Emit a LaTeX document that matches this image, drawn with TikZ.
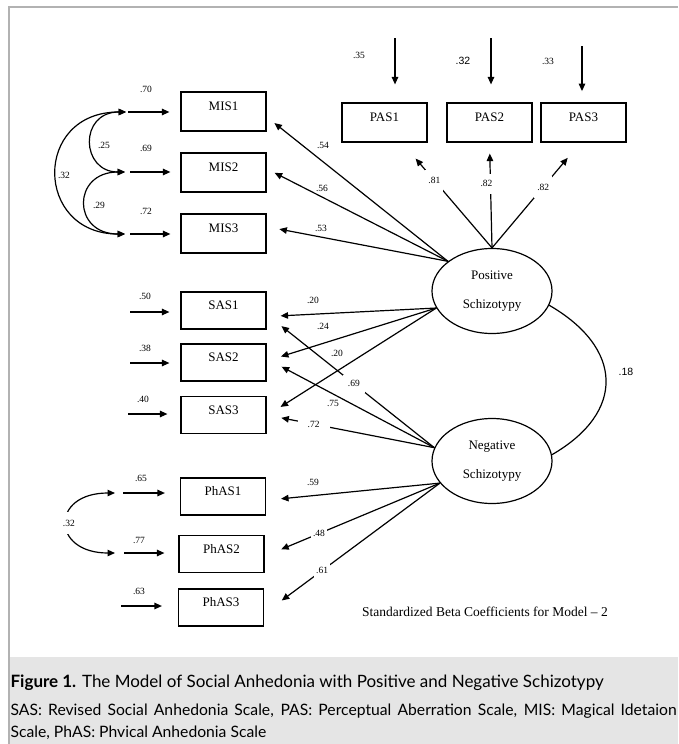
\documentclass[tikz,border=0pt]{standalone}
\usepackage{fontspec}
\setmainfont{Liberation Serif}
\newfontfamily\capfont{Lato}
\newfontfamily\arialfont{Liberation Sans}
\usetikzlibrary{arrows.meta,shapes.geometric}

\begin{document}
\begin{tikzpicture}[x=1pt, y=1pt, >={Triangle[length=7.5pt,width=6.5pt]}, line width=1.2pt,
      every node/.append style={inner sep=1pt}]
    \tikzstyle{itembox} = [draw, rectangle, minimum width=85pt, minimum height=37pt,
      font=\fontsize{13}{15}\selectfont, text height=9pt, text depth=10.4pt]
    \tikzstyle{latent} = [draw, ellipse, minimum width=120pt, minimum height=85pt,
      align=center, font=\fontsize{13}{29}\selectfont]
    \tikzstyle{coef} = [font=\fontsize{9.5}{10}\selectfont]
    \tikzstyle{sanscoef} = [font=\arialfont\fontsize{10.5}{12}\selectfont]
    \tikzstyle{gaplabel} = [coef, fill=white, minimum width=18pt, minimum height=18pt]
    \tikzstyle{capline} = [anchor=base west, inner sep=0, font=\capfont\fontsize{15.7}{18}\selectfont]

    \useasboundingbox (0,0) rectangle (678,-744);
    \fill[black!10] (9,-657) rectangle (678,-744);
    \draw[black!30, line width=1.5pt] (9,-744) -- (9,-7) -- (678,-7);

    \node (MIS1) [itembox, minimum height=39pt] at (223.5,-111.5) {MIS1};
    \node (MIS2) [itembox, minimum height=39pt] at (223.5,-172.5) {MIS2};
    \node (MIS3) [itembox, minimum height=39pt] at (223.5,-233.5) {MIS3};
    \node (PAS1) [itembox, minimum height=39pt] at (384.5,-122.5) {PAS1};
    \node (PAS2) [itembox, minimum height=39pt] at (489.5,-122.5) {PAS2};
    \node (PAS3) [itembox, minimum height=39pt, line width=1.8pt] at (583.5,-122.5) {PAS3};
    \node (SAS1) [itembox] at (223.5,-310.5) {SAS1};
    \node (SAS2) [itembox] at (223.5,-362.5) {SAS2};
    \node (SAS3) [itembox] at (223.5,-415) {SAS3};
    \node (PhAS1) [itembox] at (223,-496.5) {PhAS1};
    \node (PhAS2) [itembox] at (221.5,-554) {PhAS2};
    \node (PhAS3) [itembox] at (221,-607.5) {PhAS3};
    \node (Pos) [latent] at (492,-291) {Positive\\Schizotypy};
    \node (Neg) [latent] at (492,-461) {Negative\\Schizotypy};

    \coordinate (eMIS1) at (128,-112);
    \coordinate (eMIS2) at (130,-172);
    \coordinate (eMIS3) at (130,-234);
    \coordinate (eSAS1) at (130,-312);
    \coordinate (eSAS2) at (130,-363);
    \coordinate (eSAS3) at (128,-414);
    \coordinate (ePhAS1) at (123,-493);
    \coordinate (ePhAS2) at (124,-553);
    \coordinate (ePhAS3) at (121,-606);
    \coordinate (ePAS1) at (395,-38);
    \coordinate (ePAS2) at (491,-38);
    \coordinate (ePAS3) at (582,-46);

    \draw[->, shorten >=11pt] (eMIS1) -- (eMIS1 -| MIS1.west);
    \draw[->, shorten >=10pt] (eMIS2) -- (eMIS2 -| MIS2.west);
    \draw[->, shorten >=10pt] (eMIS3) -- (eMIS3 -| MIS3.west);
    \draw[->, shorten >=11pt] (eSAS1) -- (eSAS1 -| SAS1.west);
    \draw[->, shorten >=11pt] (eSAS2) -- (eSAS2 -| SAS2.west);
    \draw[->, shorten >=13pt] (eSAS3) -- (eSAS3 -| SAS3.west);
    \draw[->, shorten >=15pt] (ePhAS1) -- (ePhAS1 -| PhAS1.west);
    \draw[->, shorten >=14pt] (ePhAS2) -- (ePhAS2 -| PhAS2.west);
    \draw[->, shorten >=16pt] (ePhAS3) -- (ePhAS3 -| PhAS3.west);
    \draw[->, shorten >=18pt] (ePAS1) -- (ePAS1 |- PAS1.north);
    \draw[->, shorten >=18pt] (ePAS2) -- (ePAS2 |- PAS2.north);
    \draw[->, shorten >=11pt] (ePAS3) -- (ePAS3 |- PAS3.north);

    \draw[<->, shorten <=2pt, shorten >=5pt] (eMIS1) to[out=180, in=180, looseness=2.1] (eMIS2);
    \draw[<->, shorten <=5pt, shorten >=5pt] (eMIS2) to[out=180, in=180, looseness=2.4] (eMIS3);
    \draw[<->, shorten <=2pt, shorten >=5pt] (eMIS1) to[out=180, in=180, looseness=2.0] (eMIS3);
    \draw[<->, shorten <=8pt, shorten >=9pt] (ePhAS1) to[out=180, in=180, looseness=3.1]
      node (cPhAS) [gaplabel, minimum width=14pt, minimum height=22pt] {.32} (ePhAS2);
    \draw (Pos.-14) to[out=-30, in=30, looseness=1.46] (Neg.6);

    \draw[->, shorten >=10pt] (Pos.146) -- (MIS1.-7);
    \draw[->, shorten >=9pt] (Pos.146) -- (MIS2.5);
    \draw[->, shorten >=13pt] (Pos.146) -- (MIS3.9);
    \draw[->, shorten >=14pt] (Pos.197) -- (SAS1.-8);
    \draw[->, shorten >=15pt] (Pos.197) -- (SAS2.2);
    \draw[->, shorten >=16.5pt] (Pos.197) -- (SAS3.-1);
    \draw[->, shorten >=17pt] (Neg.167) -- (SAS2.5);
    \draw[->, shorten >=15pt] (Neg.203) -- (PhAS1.-5);
    \draw[->, shorten >=19pt] (Neg.167) -- node (l69) [gaplabel, pos=0.48, minimum width=22pt] {.69} (SAS1.-5);
    \draw[->, shorten >=15pt] (Neg.167) -- node (l72) [gaplabel, pos=0.72, minimum width=32pt, minimum height=12pt] {.72} (SAS3.0);
    \draw[->, shorten >=18pt] (Neg.203) -- node (l48) [gaplabel, pos=0.69, minimum width=16pt, minimum height=14pt] {.48} (PhAS2.-3);
    \draw[->, shorten >=22pt] (Neg.203) -- node (l61) [gaplabel, pos=0.67, minimum width=16pt, minimum height=16pt] {.61} (PhAS3.-8);
    \draw[->, shorten >=21pt] (Pos.north) -- node (l81) [gaplabel, pos=0.64, minimum height=22pt] {.81} (PAS1.-49);
    \draw[->, shorten >=11pt] (Pos.north) -- node (l82a) [gaplabel, pos=0.61, xshift=-4pt, minimum width=22pt, minimum height=20pt] {.82} (PAS2.south);
    \draw[->, shorten >=19.5pt] (Pos.north) -- node (l82b) [gaplabel, pos=0.58, minimum height=22pt] {.82} (PAS3.-99);

    \node (rMIS1) [coef] at (146,-89) {.70};
    \node (rMIS2) [coef] at (146,-148) {.69};
    \node (rMIS3) [coef] at (146,-211) {.72};
    \node (rSAS1) [coef] at (145,-296) {.50};
    \node (rSAS2) [coef] at (145,-348) {.38};
    \node (rSAS3) [coef] at (143,-399) {.40};
    \node (rPhAS1) [coef] at (141,-478) {.65};
    \node (rPhAS2) [coef] at (139,-540) {.77};
    \node (rPhAS3) [coef] at (139,-591) {.63};
    \node (rPAS1) [coef] at (359,-55) {.35};
    \node (rPAS2) [sanscoef] at (463,-61) {.32};
    \node (rPAS3) [coef] at (548,-61) {.33};
    \node (cMIS12) [coef] at (104,-145) {.25};
    \node (cMIS23) [coef] at (99,-205) {.29};
    \node (cMIS13) [coef] at (64,-175) {.32};
    \node (cPosNeg) [sanscoef] at (626,-372) {.18};
    \node (lMIS1) [coef] at (323,-145) {.54};
    \node (lMIS2) [coef] at (322,-188) {.56};
    \node (lMIS3) [coef] at (321,-228) {.53};
    \node (lSAS1) [coef] at (313,-300) {.20};
    \node (lSAS2) [coef] at (323,-326) {.24};
    \node (lSAS3) [coef] at (337,-353) {.20};
    \node (l75) [coef] at (333,-403) {.75};
    \node (l59) [coef] at (313,-482) {.59};

    \node (model) [font=\fontsize{13.5}{15}\selectfont] at (485,-612) {Standardized Beta Coefficients for Model -- 2};

    \node (capTitle) [capline, font=\capfont\fontsize{17}{20}\selectfont] at (10,-687)
      {\textbf{Figure 1.} The Model of Social Anhedonia with Positive and Negative Schizotypy};
    \node (capAbbrA) [capline] at (10,-715)
      {\hbox to 666pt{SAS: Revised Social Anhedonia Scale, PAS: Perceptual Aberration Scale, MIS: Magical Idetaion}};
    \node (capAbbrB) [capline] at (10,-737) {Scale, PhAS: Phvical Anhedonia Scale};
\end{tikzpicture}
\end{document}
